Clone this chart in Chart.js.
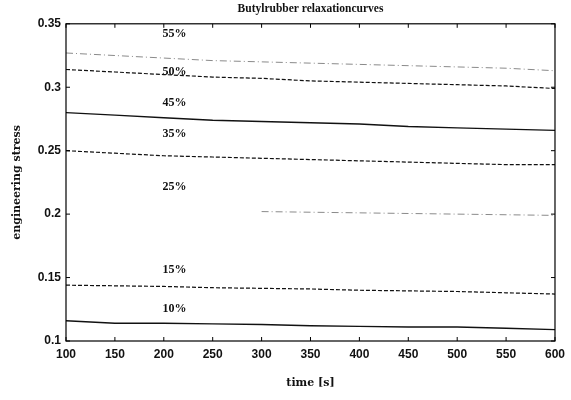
<!DOCTYPE html>
<html>
<head>
<meta charset="utf-8">
<script src="https://cdn.jsdelivr.net/npm/chart.js@4.4.1/dist/chart.umd.min.js"></script>
<style>
  html, body { margin: 0; padding: 0; background: #fff; }
  #wrap { width: 571px; height: 400px; }
</style>
</head>
<body>
<div id="wrap"><canvas id="chart" width="571" height="400"></canvas></div>
<script>
// time axis (s)
var times = [100, 150, 200, 250, 300, 350, 400, 450, 500, 550, 600];

// engineering stress per strain level
var s55 = [0.327, 0.325, 0.323, 0.321, 0.320, 0.319, 0.318, 0.317, 0.316, 0.315, 0.313];
var s50 = [0.314, 0.312, 0.310, 0.308, 0.307, 0.305, 0.304, 0.303, 0.302, 0.301, 0.299];
var s45 = [0.280, 0.278, 0.276, 0.274, 0.273, 0.272, 0.271, 0.269, 0.268, 0.267, 0.266];
var s35 = [0.250, 0.248, 0.246, 0.245, 0.244, 0.243, 0.242, 0.241, 0.240, 0.239, 0.239];
var s25 = [null, null, null, null, 0.202, 0.2015, 0.201, 0.2005, 0.200, 0.1995, 0.199];
var s15 = [0.144, 0.1435, 0.143, 0.142, 0.1415, 0.141, 0.140, 0.1395, 0.139, 0.138, 0.137];
var s10 = [0.116, 0.114, 0.114, 0.1135, 0.113, 0.112, 0.1115, 0.111, 0.111, 0.110, 0.109];

var curveNames = ["55%", "50%", "45%", "35%", "25%", "15%", "10%"];
// where the curve labels sit (data units)
var labelTime = 211;
var labelStress = [0.342, 0.312, 0.2877, 0.2633, 0.2214, 0.156, 0.1253];

var xTicks = [100, 150, 200, 250, 300, 350, 400, 450, 500, 550, 600];
var yTicks = [0.1, 0.15, 0.2, 0.25, 0.3, 0.35];

var serifFam = "'Liberation Serif', 'DejaVu Serif', serif";
var wideSerif = "'DejaVu Serif', 'Liberation Serif', serif";
var sansFam = "'Liberation Sans', Arial, sans-serif";

function toPoints(arr) {
	return times.map(function(t, i) { return { x: t, y: arr[i] }; });
}

function curve(arr, dash, color, width) {
	return {
		data: toPoints(arr),
		borderColor: color,
		borderWidth: width,
		borderDash: dash,
		pointRadius: 0,
		fill: false,
		tension: 0,
		spanGaps: false
	};
}

// frame + inward ticks on all four sides, and the curve labels
var framePlugin = {
	id: "frame",
	afterDraw: function(chart) {
		var ctx = chart.ctx;
		var a = chart.chartArea;
		var xs = chart.scales.x, ys = chart.scales.y;
		ctx.save();
		ctx.strokeStyle = "#000";
		ctx.lineWidth = 1.2;
		ctx.strokeRect(a.left, a.top, a.right - a.left, a.bottom - a.top);
		ctx.lineWidth = 1;
		ctx.beginPath();
		xTicks.forEach(function(v) {
			var px = xs.getPixelForValue(v);
			ctx.moveTo(px, a.bottom); ctx.lineTo(px, a.bottom - 4);
			ctx.moveTo(px, a.top); ctx.lineTo(px, a.top + 4);
		});
		yTicks.forEach(function(v) {
			var py = ys.getPixelForValue(v);
			ctx.moveTo(a.left, py); ctx.lineTo(a.left + 4, py);
			ctx.moveTo(a.right, py); ctx.lineTo(a.right - 4, py);
		});
		ctx.stroke();

		ctx.fillStyle = "#111";
		ctx.font = "bold 12px " + serifFam;
		ctx.textAlign = "center";
		ctx.textBaseline = "middle";
		curveNames.forEach(function(name, i) {
			ctx.fillText(name, xs.getPixelForValue(labelTime), ys.getPixelForValue(labelStress[i]));
		});
		ctx.restore();
	}
};

var ctx = document.getElementById("chart");
var myChart = new Chart(ctx, {
	type: "line",
	data: {
		datasets: [
			curve(s55, [7, 3, 1, 3], "#8a8a8a", 1),
			curve(s50, [4, 2], "#111", 1.2),
			curve(s45, [], "#111", 1.4),
			curve(s35, [4, 2], "#111", 1.2),
			curve(s25, [7, 3, 1, 3], "#8a8a8a", 1),
			curve(s15, [4, 2], "#111", 1.2),
			curve(s10, [], "#111", 1.4)
		]
	},
	plugins: [framePlugin],
	options: {
		responsive: false,
		animation: false,
		maintainAspectRatio: false,
		layout: { padding: { left: 0, right: 16, top: 0, bottom: 0 } },
		plugins: {
			legend: { display: false },
			tooltip: { enabled: false },
			title: {
				display: true,
				fullSize: false,
				text: "Butylrubber relaxationcurves",
				color: "#111",
				font: { family: serifFam, weight: "bold", size: 11.5 },
				padding: { top: 2, bottom: 8 }
			}
		},
		scales: {
			x: {
				type: "linear",
				min: 100,
				max: 600,
				afterBuildTicks: function(s) { s.ticks = xTicks.map(function(v) { return { value: v }; }); },
				grid: { display: false, drawTicks: false },
				border: { display: false },
				ticks: {
					color: "#111",
					padding: 6,
					maxRotation: 0,
					autoSkip: false,
					font: { family: sansFam, weight: "bold", size: 12 }
				},
				title: {
					display: true,
					text: "time [s]",
					color: "#111",
					font: { family: wideSerif, weight: "bold", size: 11 },
					padding: { top: 0, bottom: 10 }
				},
				afterFit: function(s) { s.height = 59; }
			},
			y: {
				type: "linear",
				min: 0.1,
				max: 0.35,
				afterBuildTicks: function(s) { s.ticks = yTicks.map(function(v) { return { value: v }; }); },
				grid: { display: false, drawTicks: false },
				border: { display: false },
				ticks: {
					color: "#111",
					padding: 5,
					autoSkip: false,
					font: { family: sansFam, weight: "bold", size: 12 },
					callback: function(v) { return String(Math.round(v * 100) / 100); }
				},
				title: {
					display: true,
					text: "engineering stress",
					color: "#111",
					font: { family: wideSerif, weight: "bold", size: 11 },
					padding: { top: 11, bottom: 0 }
				},
				afterFit: function(s) { s.width = 66; }
			}
		}
	}
});
</script>
</body>
</html>
